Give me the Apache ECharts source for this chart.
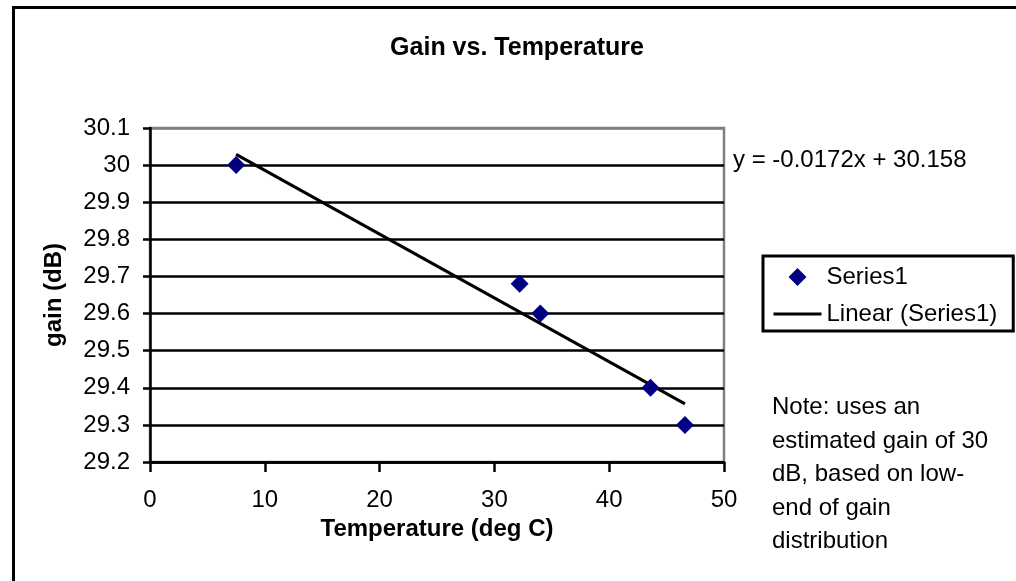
<!DOCTYPE html>
<html>
<head>
<meta charset="utf-8">
<script src="https://cdn.jsdelivr.net/npm/echarts@6/dist/echarts.min.js"></script>
<style>
  html, body { margin: 0; padding: 0; background: #fff; }
  #chart { width: 1016px; height: 581px; }
</style>
</head>
<body>
<div id="chart"></div>
<script>
// measured points
const temps = [7.5, 32.2, 34.0, 43.6, 46.6];
const gains = [30.0, 29.68, 29.6, 29.4, 29.3];
// Excel linear trendline
const trendSlope = -0.0172;
const trendIntercept = 30.158;
const xTicks = { min: 0, max: 50, step: 10 };
const yTicks = { min: 29.2, max: 30.1, step: 0.1 };
const noteLines = ['Note: uses an', 'estimated gain of 30', 'dB, based on low-', 'end of gain', 'distribution'];

const font = '"Liberation Sans", Arial, sans-serif';

const scatterData = temps.map((t, i) => [t, gains[i]]);
const tMin = Math.min.apply(null, temps);
const tMax = Math.max.apply(null, temps);
const trendData = [
  [tMin, trendSlope * tMin + trendIntercept],
  [tMax, trendSlope * tMax + trendIntercept]
];

// top gridline is the plot border (gray)
const nLines = Math.round((yTicks.max - yTicks.min) / yTicks.step) + 1;
const splitColors = [];
for (let i = 0; i < nLines; i++) splitColors.push(i === nLines - 1 ? '#808080' : '#000');

const chart = echarts.init(document.getElementById('chart'));
const option = {
  backgroundColor: '#fff',
  animation: false,
  textStyle: { fontFamily: font },
  title: {
    text: 'Gain vs. Temperature',
    left: 512,
    top: 31,
    textAlign: 'center',
    textStyle: { fontFamily: font, fontSize: 25, fontWeight: 'bold', color: '#000' }
  },
  grid: {
    left: 150, right: 292, top: 128, bottom: 119,
    show: true, borderColor: '#808080', borderWidth: 2.5, backgroundColor: '#fff'
  },
  legend: {
    orient: 'vertical',
    left: 763,
    top: 256,
    padding: [9, 16, 5, 9],
    itemWidth: 48,
    itemHeight: 18,
    itemGap: 13,
    symbolKeepAspect: true,
    borderColor: '#000',
    borderWidth: 3,
    borderRadius: 0,
    backgroundColor: '#fff',
    textStyle: { fontFamily: font, fontSize: 24, color: '#000' },
    data: [
      { name: 'Series1', icon: 'path://M0,1 L1,0 L2,1 L1,2 Z' },
      { name: 'Linear (Series1)', itemStyle: { opacity: 0 }, lineStyle: { width: 3, color: '#000' } }
    ]
  },
  xAxis: {
    type: 'value',
    min: xTicks.min, max: xTicks.max, interval: xTicks.step,
    name: 'Temperature (deg C)',
    nameLocation: 'middle',
    nameGap: 40,
    nameTextStyle: { fontFamily: font, fontSize: 24, fontWeight: 'bold', color: '#000' },
    axisLine: { show: true, lineStyle: { color: '#000', width: 2.5 } },
    axisTick: { show: true, inside: false, length: 10, lineStyle: { color: '#000', width: 2.5 } },
    axisLabel: { margin: 26, fontFamily: font, fontSize: 24, color: '#000' },
    splitLine: { show: false }
  },
  yAxis: {
    type: 'value',
    min: yTicks.min, max: yTicks.max, interval: yTicks.step,
    name: 'gain (dB)',
    nameLocation: 'middle',
    nameGap: 84,
    nameRotate: 90,
    nameTextStyle: { fontFamily: font, fontSize: 24, fontWeight: 'bold', color: '#000' },
    axisLine: { show: true, lineStyle: { color: '#000', width: 2.5 } },
    axisTick: { show: true, inside: false, length: 7, lineStyle: { color: '#000', width: 2.5 } },
    axisLabel: {
      margin: 20, fontFamily: font, fontSize: 24, color: '#000',
      formatter: v => String(Math.round(v * 10) / 10)
    },
    splitLine: { show: true, lineStyle: { color: splitColors, width: 2.5 } }
  },
  series: [
    {
      name: 'Linear (Series1)',
      type: 'line',
      data: trendData,
      symbol: 'none',
      lineStyle: { color: '#000', width: 3 },
      itemStyle: { color: '#000' },
      z: 2
    },
    {
      name: 'Series1',
      type: 'scatter',
      data: scatterData,
      symbol: 'diamond',
      symbolSize: 18,
      itemStyle: { color: '#000080', opacity: 1 },
      z: 3
    }
  ],
  graphic: [
    {
      type: 'rect',
      shape: { x: 13.5, y: 7.5, width: 1200, height: 800 },
      style: { fill: 'none', stroke: '#000', lineWidth: 3 },
      silent: true,
      z: 100
    },
    {
      type: 'text',
      x: 733, y: 160,
      style: {
        text: 'y = ' + trendSlope + 'x + ' + trendIntercept,
        font: '24px ' + font, fill: '#000', verticalAlign: 'middle'
      }
    },
    {
      type: 'text',
      x: 772, y: 391,
      style: {
        text: noteLines.join('\n'),
        font: '24px ' + font, fill: '#000', lineHeight: 33.5, verticalAlign: 'top'
      }
    }
  ]
};
chart.setOption(option);
</script>
</body>
</html>
